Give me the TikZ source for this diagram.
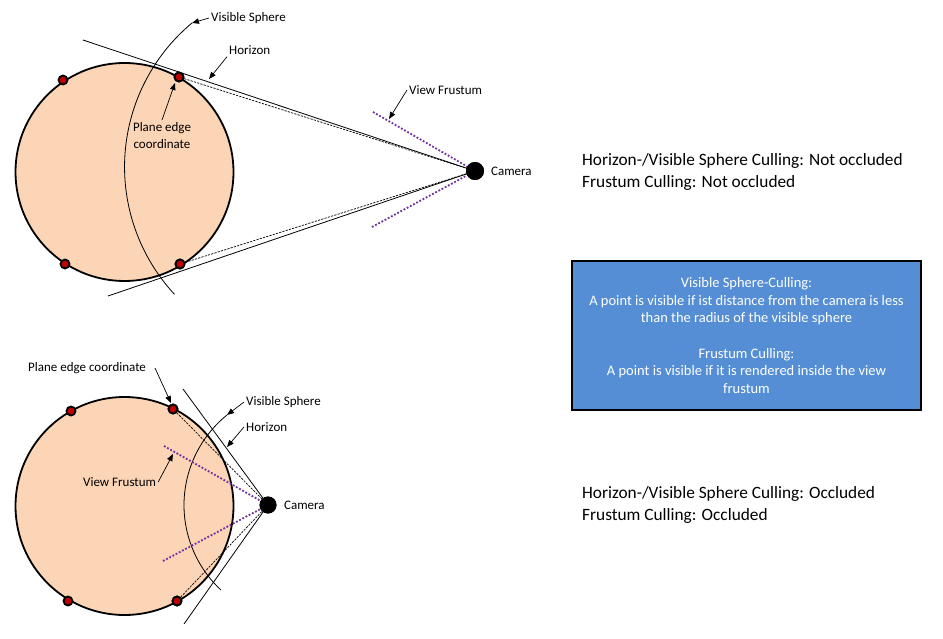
\documentclass[tikz,border=0pt]{standalone}
\usepackage{fontspec}
\setmainfont{Carlito}
\usetikzlibrary{arrows.meta}
\definecolor{peach}{HTML}{FBD5B5}
\definecolor{dotred}{HTML}{C00000}
\definecolor{frust}{HTML}{7030A0}
\definecolor{boxblue}{HTML}{558ED5}
\begin{document}
\begin{tikzpicture}[x=1pt,y=-1pt,
  lbl/.style={font=\fontsize{13}{15}\selectfont, inner sep=2pt, anchor=west},
  ptr/.style={-{Triangle[length=7pt,width=5.5pt]}, line width=0.7pt},
  hor/.style={line width=0.8pt},
  sight/.style={dash pattern=on 2.2pt off 1.2pt, line width=0.7pt},
  frustum/.style={frust, dash pattern=on 1.8pt off 1.8pt, line width=1.8pt},
  vis/.style={line width=0.8pt},
  sphere/.style={circle, draw=black, fill=peach, line width=1.8pt, minimum size=218pt, inner sep=0pt},
  pt/.style={circle, fill=dotred, draw=black, line width=1.8pt, minimum size=9pt, inner sep=0pt},
  cam/.style={circle, fill=black, inner sep=0pt},
  status/.style={font=\fontsize{17.3}{22}\selectfont, align=left, anchor=west, inner sep=0pt}
]
\useasboundingbox (0,0) rectangle (943,639);

% ---------------- top diagram ----------------
\node[sphere] (s1) at (124.5,172) {};
\draw[vis] (192,23) arc[start angle=230.2, end angle=137.2, radius=187.4];
\node[cam, minimum size=18pt] (cam1) at (475,171) {};
\node[pt] (d1) at (63,80) {};
\node[pt] (d2) at (179,77) {};
\node[pt] (d3) at (65,264) {};
\node[pt] (d4) at (180,264) {};
\coordinate (h1a) at (83,40);
\coordinate (h1b) at (108,296);
\draw[hor] (h1a) -- (cam1.center);
\draw[hor] (h1b) -- (cam1.center);
\draw[sight] (d2) -- (cam1.center);
\draw[sight] (d4) -- (cam1.center);
\coordinate (f1a) at (373,112);
\coordinate (f1b) at (372,227);
\draw[frustum] (f1a) -- (cam1);
\draw[frustum] (f1b) -- (cam1);
\node[pt] at (d2) {};
\node[pt] at (d4) {};
\node[cam, minimum size=18pt] at (cam1) {};

\node[lbl] (lvs1) at (209,18) {Visible Sphere};
\coordinate (tvs1) at (192,23);
\draw[ptr] (lvs1.west) -- (tvs1);
\node[lbl] (lh1) at (227,50) {Horizon};
\coordinate (th1) at (209,79);
\draw[ptr] (lh1.south west) -- (th1);
\node[lbl, align=center, anchor=north, font=\fontsize{13}{17}\selectfont] (lp1) at (162,120) {Plane edge\\coordinate};
\coordinate (tp1) at (175,83);
\draw[ptr] (lp1.north) -- (tp1);
\node[lbl] (lvf1) at (407,90) {View Frustum};
\coordinate (tvf1) at (389,119);
\draw[ptr] (lvf1.west) -- (tvf1);
\node[lbl] (lc1) at (489,171) {Camera};

\node[status] (st1) at (582,172) {Horizon-/Visible Sphere Culling: Not occluded\\Frustum Culling: Not occluded};

% ---------------- info box ----------------
\node[draw=black, fill=boxblue, line width=1.5pt, minimum width=349pt, minimum height=149pt,
      text=white, align=center, font=\fontsize{14.5}{17.7}\selectfont] (info) at (746.5,335.5)
  {Visible Sphere-Culling:\\A point is visible if ist distance from the camera is less\\than the radius of the visible sphere\\[17.7pt]Frustum Culling:\\A point is visible if it is rendered inside the view\\frustum};

% ---------------- bottom diagram ----------------
\node[sphere] (s2) at (124.5,506) {};
\draw[vis] (227,415) arc[start angle=231, end angle=133, radius=116];
\node[cam, minimum size=17pt] (cam2) at (268,505) {};
\node[pt] (e1) at (71,411) {};
\node[pt] (e2) at (173,409) {};
\node[pt] (e3) at (68,601) {};
\node[pt] (e4) at (177,601) {};
\coordinate (h2a) at (183,389);
\coordinate (h2b) at (184,624);
\draw[hor] (h2a) -- (cam2.center);
\draw[hor] (h2b) -- (cam2.center);
\draw[sight] (e2) -- (cam2.center);
\draw[sight] (e4) -- (cam2.center);
\coordinate (f2a) at (164,446);
\coordinate (f2b) at (163,561);
\draw[frustum] (f2a) -- (cam2);
\draw[frustum] (f2b) -- (cam2);
\node[pt] at (e2) {};
\node[pt] at (e4) {};
\node[cam, minimum size=17pt] at (cam2) {};

\node[lbl] (lp2) at (26,368) {Plane edge coordinate};
\coordinate (sp2) at (155,368);
\coordinate (tp2) at (171,403);
\draw[ptr] (sp2) -- (tp2);
\node[lbl] (lvs2) at (244,402) {Visible Sphere};
\coordinate (tvs2) at (227,415);
\draw[ptr] (lvs2.west) -- (tvs2);
\node[lbl] (lh2) at (244,427) {Horizon};
\coordinate (th2) at (227,447);
\draw[ptr] (lh2.west) -- (th2);
\node[lbl] (lvf2) at (81,482) {View Frustum};
\coordinate (tvf2) at (173,454);
\draw[ptr] (lvf2.east) -- (tvf2);
\node[lbl] (lc2) at (282,505) {Camera};

\node[status] (st2) at (582,505) {Horizon-/Visible Sphere Culling: Occluded\\Frustum Culling: Occluded};
\end{tikzpicture}
\end{document}
